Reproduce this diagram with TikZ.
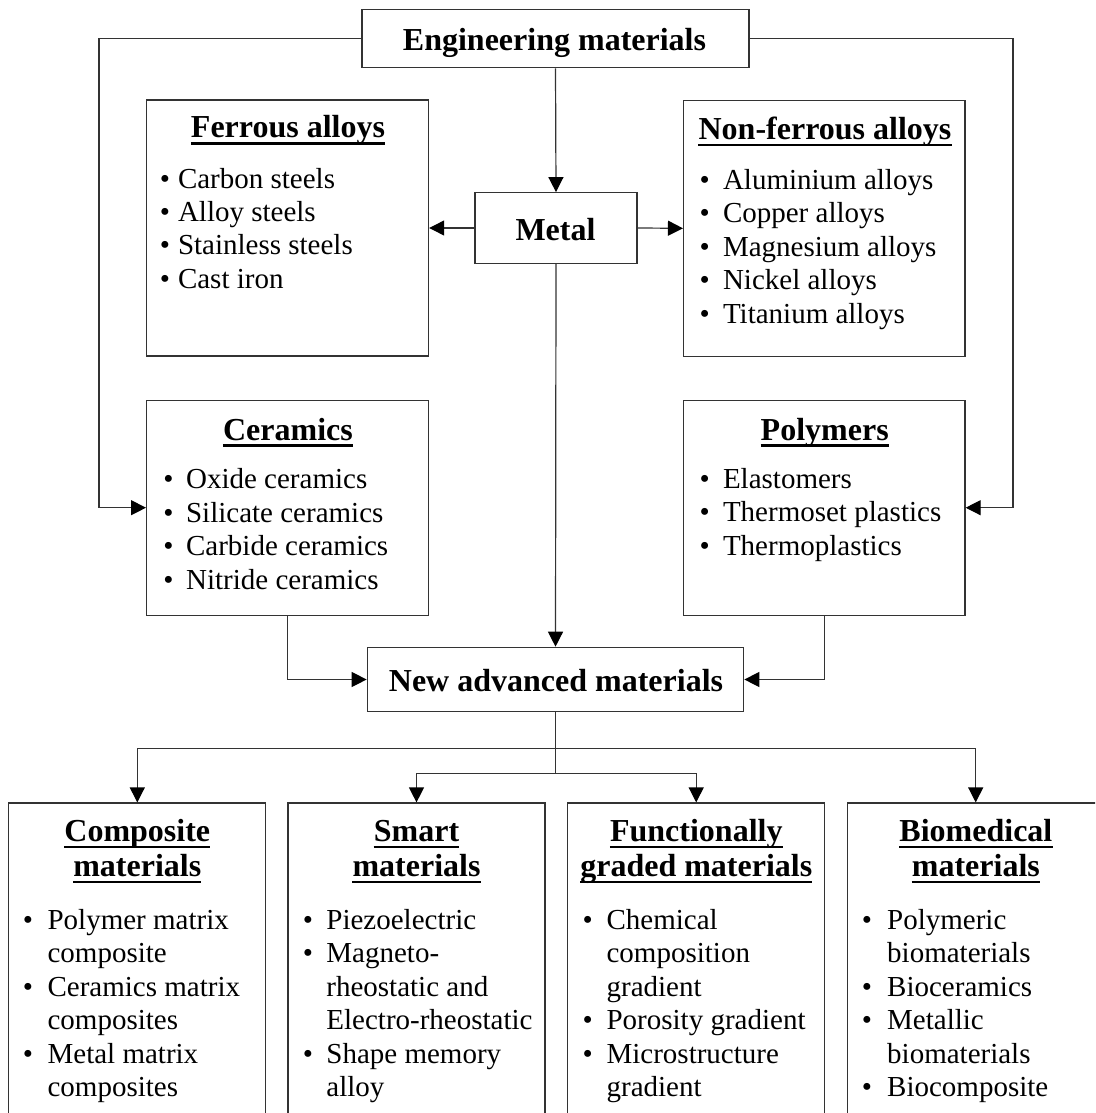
\documentclass[tikz,border=0pt]{standalone}
\usepackage{fontspec}
\setmainfont{Liberation Serif}
\usetikzlibrary{arrows.meta}
\newcommand\bodyfont{\fontsize{29}{33.5}\selectfont}
\newcommand\headfont{\fontsize{32}{35}\selectfont\bfseries}
% underline a heading node
\newcommand\ulnode[1]{\draw[uline] ([yshift=-5.5pt]#1.base west) -- ([yshift=-5.5pt]#1.base east);}

\begin{document}
\begin{tikzpicture}[x=1pt,y=-1pt,
  box/.style={draw=black!80, line width=1.2pt, rectangle, inner sep=0pt},
  link/.style={draw=black!80, line width=1.2pt},
  arr/.style={link, -{Triangle[length=15pt,width=15pt,color=black]}},
  head/.style={anchor=base, inner sep=0pt, font=\headfont},
  item/.style={anchor=base west, inner sep=0pt, font=\bodyfont},
  dot/.style={anchor=base, inner sep=0pt, font=\bodyfont},
  uline/.style={line width=2.3pt, black}]
\useasboundingbox (0,0) rectangle (1095,1113);
\clip (0,0) rectangle (1095,1113);

% ---------- boxes ----------
\node[box, minimum width=387pt,   minimum height=58.4pt] (eng)   at (555.5,38.5) {};
\node[box, minimum width=162pt,   minimum height=70.6pt] (metal) at (556,228) {};
\node[box, minimum width=282pt,   minimum height=256pt]  (fer)   at (287.6,228) {};
\node[box, minimum width=281.5pt, minimum height=256pt]  (nonf)  at (824.3,228.3) {};
\node[box, minimum width=282pt,   minimum height=215pt]  (cer)   at (287.6,507.7) {};
\node[box, minimum width=281.5pt, minimum height=215pt]  (pol)   at (824.3,507.7) {};
\node[box, minimum width=376.5pt, minimum height=64.4pt] (new)   at (555.5,679.5) {};
\node[box, minimum width=257pt, minimum height=340pt] (comp)  at (137.3,973) {};
\node[box, minimum width=257pt, minimum height=340pt] (smart) at (416.5,973) {};
\node[box, minimum width=257pt, minimum height=340pt] (func)  at (696.2,973) {};
\node[box, minimum width=257pt, minimum height=340pt] (bio)   at (975.7,973) {};

% ---------- main labels ----------
\node[head] (teng)   at (554.5,50.7)  {Engineering materials};
\node[head] (tmetal) at (555.5,240)   {Metal};
\node[head] (tnew)   at (556,691.7)   {New advanced materials};

% ---------- connectors ----------
\coordinate (lc) at (99,38.5);
\coordinate (rc) at (1013,38.5);
\coordinate (j1) at (555.5,748.3);
\coordinate (j2) at (555.5,773.3);
\draw[arr] (eng.west) -- (lc) |- (cer.west);
\draw[arr] (eng.east) -- (rc) |- (pol.east);
\draw[arr] (eng.south) -- (metal.north);
\draw[arr] (metal.west) -- (fer.east);
\draw[arr] (metal.east) -- (nonf.west);
\draw[arr] (metal.south) -- (new.north);
\draw[arr] (cer.south) |- (new.west);
\draw[arr] (pol.south) |- (new.east);
\draw[link] (new.south) -- (j2);
\draw[arr] (j1) -| (comp.north);
\draw[arr] (j1) -| (bio.north);
\draw[arr] (j2) -| (smart.north);
\draw[arr] (j2) -| (func.north);

% ---------- Ferrous alloys ----------
\node[head] (hfer) at (288,138) {Ferrous alloys}; \ulnode{hfer}
\node[dot] (fd1) at (164.9,188.3) {\textbullet}; \node[item] (fi1) at (177.8,188.3) {Carbon steels};
\node[dot] (fd2) at (164.9,221.6) {\textbullet}; \node[item] (fi2) at (177.8,221.6) {Alloy steels};
\node[dot] (fd3) at (164.9,254.9) {\textbullet}; \node[item] (fi3) at (177.8,254.9) {Stainless steels};
\node[dot] (fd4) at (164.9,288.2) {\textbullet}; \node[item] (fi4) at (177.8,288.2) {Cast iron};

% ---------- Non-ferrous alloys ----------
\node[head] (hnonf) at (825,139.5) {Non-ferrous alloys}; \ulnode{hnonf}
\node[dot] (nd1) at (704.6,189.3) {\textbullet}; \node[item] (ni1) at (722.8,189.3) {Aluminium alloys};
\node[dot] (nd2) at (704.6,222.8) {\textbullet}; \node[item] (ni2) at (722.8,222.8) {Copper alloys};
\node[dot] (nd3) at (704.6,256.3) {\textbullet}; \node[item] (ni3) at (722.8,256.3) {Magnesium alloys};
\node[dot] (nd4) at (704.6,289.8) {\textbullet}; \node[item] (ni4) at (722.8,289.8) {Nickel alloys};
\node[dot] (nd5) at (704.6,323.3) {\textbullet}; \node[item] (ni5) at (722.8,323.3) {Titanium alloys};

% ---------- Ceramics ----------
\node[head] (hcer) at (288,440) {Ceramics}; \ulnode{hcer}
\node[dot] (cd1) at (168.4,488.3) {\textbullet}; \node[item] (ci1) at (185.9,488.3) {Oxide ceramics};
\node[dot] (cd2) at (168.4,522.0) {\textbullet}; \node[item] (ci2) at (185.9,522.0) {Silicate ceramics};
\node[dot] (cd3) at (168.4,555.7) {\textbullet}; \node[item] (ci3) at (185.9,555.7) {Carbide ceramics};
\node[dot] (cd4) at (168.4,589.4) {\textbullet}; \node[item] (ci4) at (185.9,589.4) {Nitride ceramics};

% ---------- Polymers ----------
\node[head] (hpol) at (824.7,440) {Polymers}; \ulnode{hpol}
\node[dot] (pd1) at (704.6,488.3) {\textbullet}; \node[item] (pi1) at (722.8,488.3) {Elastomers};
\node[dot] (pd2) at (704.6,521.7) {\textbullet}; \node[item] (pi2) at (722.8,521.7) {Thermoset plastics};
\node[dot] (pd3) at (704.6,555.1) {\textbullet}; \node[item] (pi3) at (722.8,555.1) {Thermoplastics};

% ---------- Composite materials ----------
\node[head] (hcomp1) at (137.3,841.7) {Composite}; \ulnode{hcomp1}
\node[head] (hcomp2) at (137.3,876.7) {materials}; \ulnode{hcomp2}
\node[dot] (kd1) at (28,929.3) {\textbullet};  \node[item] (ki1) at (47.4,929.3)  {Polymer matrix};
                                               \node[item] (ki2) at (47.4,962.8)  {composite};
\node[dot] (kd3) at (28,996.3) {\textbullet};  \node[item] (ki3) at (47.4,996.3)  {Ceramics matrix};
                                               \node[item] (ki4) at (47.4,1029.8) {composites};
\node[dot] (kd5) at (28,1063.3) {\textbullet}; \node[item] (ki5) at (47.4,1063.3) {Metal matrix};
                                               \node[item] (ki6) at (47.4,1096.8) {composites};

% ---------- Smart materials ----------
\node[head] (hsm1) at (416.5,841.7) {Smart}; \ulnode{hsm1}
\node[head] (hsm2) at (416.5,876.7) {materials}; \ulnode{hsm2}
\node[dot] (sd1) at (308,929.3) {\textbullet};  \node[item] (si1) at (326.2,929.3)  {Piezoelectric};
\node[dot] (sd2) at (308,962.8) {\textbullet};  \node[item] (si2) at (326.2,962.8)  {Magneto-};
                                                \node[item] (si3) at (326.2,996.3)  {rheostatic and};
                                                \node[item] (si4) at (326.2,1029.8) {Electro-rheostatic};
\node[dot] (sd5) at (308,1063.3) {\textbullet}; \node[item] (si5) at (326.2,1063.3) {Shape memory};
                                                \node[item] (si6) at (326.2,1096.8) {alloy};

% ---------- Functionally graded materials ----------
\node[head] (hfg1) at (696.3,841.7) {Functionally}; \ulnode{hfg1}
\node[head] (hfg2) at (696.3,876.7) {graded materials}; \ulnode{hfg2}
\node[dot] (gd1) at (587.8,929.3) {\textbullet};  \node[item] (gi1) at (606.4,929.3)  {Chemical};
                                                  \node[item] (gi2) at (606.4,962.8)  {composition};
                                                  \node[item] (gi3) at (606.4,996.3)  {gradient};
\node[dot] (gd4) at (587.8,1029.8) {\textbullet}; \node[item] (gi4) at (606.4,1029.8) {Porosity gradient};
\node[dot] (gd5) at (587.8,1063.3) {\textbullet}; \node[item] (gi5) at (606.4,1063.3) {Microstructure};
                                                  \node[item] (gi6) at (606.4,1096.8) {gradient};

% ---------- Biomedical materials ----------
\node[head] (hbio1) at (975.9,841.7) {Biomedical}; \ulnode{hbio1}
\node[head] (hbio2) at (975.9,876.7) {materials}; \ulnode{hbio2}
\node[dot] (bd1) at (867,929.3) {\textbullet};  \node[item] (bi1) at (887,929.3)  {Polymeric};
                                                \node[item] (bi2) at (887,962.8)  {biomaterials};
\node[dot] (bd3) at (867,996.3) {\textbullet};  \node[item] (bi3) at (887,996.3)  {Bioceramics};
\node[dot] (bd4) at (867,1029.8) {\textbullet}; \node[item] (bi4) at (887,1029.8) {Metallic};
                                                \node[item] (bi5) at (887,1063.3) {biomaterials};
\node[dot] (bd6) at (867,1096.8) {\textbullet}; \node[item] (bi6) at (887,1096.8) {Biocomposite};
\end{tikzpicture}
\end{document}
